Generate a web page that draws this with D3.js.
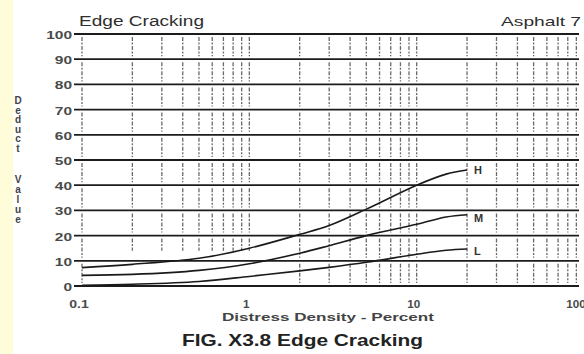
<!DOCTYPE html>
<html>
<head>
<meta charset="utf-8">
<script src="https://cdn.jsdelivr.net/npm/d3@7"></script>
<style>
  html, body { margin: 0; padding: 0; background: #fff; }
  svg { display: block; }
  text { font-family: "Liberation Sans", Arial, sans-serif; fill: #262626; }
</style>
</head>
<body>
<script>
// ---- data ----
const density = [0.1, 0.2, 0.5, 1, 2, 3, 5, 10, 15, 20];
const seriesH = [7.3, 8.6, 11, 15, 20.5, 24, 30.5, 40, 44.4, 46];
const seriesM = [4.2, 4.6, 6.2, 8.8, 13, 16, 20, 24.5, 27.4, 28.3];
const seriesL = [0.3, 0.7, 1.8, 3.8, 6, 7.4, 9.4, 12.6, 14.2, 14.7];
const seriesNames = ["H", "M", "L"];
const yTicks = [0, 10, 20, 30, 40, 50, 60, 70, 80, 90, 100];
const xTicks = [0.1, 1, 10, 100];
const xTickLabels = ["0.1", "1", "10", "100"];
const chartTitle = "Edge Cracking";
const chartTag = "Asphalt 7";
const xTitle = "Distress Density - Percent";
const yTitle = ["Deduct", "Value"];
const caption = "FIG. X3.8 Edge Cracking";

const W = 584, H = 354;
const svg = d3.select("body").append("svg").attr("width", W).attr("height", H);

// pale yellow strip on the left
svg.append("rect").attr("x", 0).attr("y", 0).attr("width", 13).attr("height", H).attr("fill", "#fffdd9");

const x = d3.scaleLog().domain([0.1, 100]).range([82, 584]);
const y = d3.scaleLinear().domain([0, 100]).range([286, 34]);

// vertical dashed grid lines (1..9 per decade)
const vVals = [];
[0.1, 1, 10].forEach(d => { for (let k = 1; k <= 9; k++) vVals.push(+(d * k).toPrecision(3)); });
const vg = svg.append("g");
vVals.forEach(v => {
  const bottom = (v > 0.15 && v < 1.5) ? 14 : 0;
  for (let j = 0; j < 10; j++) {
    const lo = Math.max(j * 10, bottom), hi = j * 10 + 10;
    if (lo >= hi) continue;
    const y1 = y(hi) + 3, y2 = (lo === j * 10) ? y(lo) - 3 : y(lo);
    if (y2 - y1 < 3) continue;
    vg.append("line")
      .attr("x1", x(v)).attr("x2", x(v))
      .attr("y1", y1).attr("y2", y2)
      .attr("stroke", "#6a6a6a").attr("stroke-width", 1.3)
      .attr("stroke-dasharray", "4,1.5,2,1.5");
  }
});

// horizontal grid lines
svg.append("g").selectAll("line").data(yTicks).join("line")
  .attr("x1", 74).attr("x2", 579)
  .attr("y1", d => y(d)).attr("y2", d => y(d))
  .attr("stroke", "#1c1c1c").attr("stroke-width", 1.8);

// y tick labels
svg.append("g").selectAll("text").data(yTicks).join("text")
  .attr("x", 72).attr("y", d => y(d) + 5)
  .attr("text-anchor", "end")
  .attr("font-size", 10).attr("font-weight", "bold")
  .attr("textLength", d => String(d).length * 8.6)
  .attr("lengthAdjust", "spacingAndGlyphs")
  .style("fill", "#4a4a4a")
  .text(d => d);

// x tick labels
svg.append("g").selectAll("text").data(xTicks).join("text")
  .attr("x", (d, i) => x(d) - (i === 3 ? 8 : 3)).attr("y", 308)
  .attr("text-anchor", "middle")
  .attr("font-size", 10).attr("font-weight", "bold")
  .attr("textLength", (d, i) => xTickLabels[i].length * 6.5)
  .attr("lengthAdjust", "spacingAndGlyphs")
  .style("fill", "#4a4a4a")
  .text((d, i) => xTickLabels[i]);

// curves
const line = d3.line().x(d => x(d[0])).y(d => y(d[1])).curve(d3.curveCatmullRom.alpha(0.5));
const allSeries = [seriesH, seriesM, seriesL];
allSeries.forEach((s, i) => {
  const pts = density.map((d, k) => [d, s[k]]);
  svg.append("path").attr("d", line(pts))
    .attr("fill", "none").attr("stroke", "#1a1a1a").attr("stroke-width", 1.6);
  svg.append("text")
    .attr("x", x(density[density.length - 1]) + 7)
    .attr("y", y(s[s.length - 1]) + 4 + (i === 0 ? 0 : i === 1 ? 3 : 2))
    .attr("font-size", 11).attr("font-weight", "bold")
    .style("fill", "#333")
    .text(seriesNames[i]);
});

// titles
svg.append("text").attr("x", 79).attr("y", 26)
  .attr("font-size", 14).attr("textLength", 125).attr("lengthAdjust", "spacingAndGlyphs")
  .style("fill", "#2e2e2e").text(chartTitle);
svg.append("text").attr("x", 581).attr("y", 26).attr("text-anchor", "end")
  .attr("font-size", 13).attr("textLength", 80).attr("lengthAdjust", "spacingAndGlyphs")
  .style("fill", "#2e2e2e").text(chartTag);

svg.append("text").attr("x", 222).attr("y", 321)
  .attr("font-size", 11).attr("font-weight", "bold").attr("textLength", 212).attr("lengthAdjust", "spacingAndGlyphs")
  .style("fill", "#444").text(xTitle);

svg.append("text").attr("x", 182).attr("y", 346)
  .attr("font-size", 17).attr("font-weight", "bold").attr("textLength", 241).attr("lengthAdjust", "spacingAndGlyphs")
  .style("fill", "#222").text(caption);

// vertical stacked y-axis title
const letters = [];
yTitle[0].split("").forEach((c, i) => letters.push({c, yy: 101 + i * 9.6}));
yTitle[1].split("").forEach((c, i) => letters.push({c, yy: 180 + i * 10}));
svg.append("g").selectAll("text").data(letters).join("text")
  .attr("x", 18).attr("y", d => d.yy + 3)
  .attr("text-anchor", "middle")
  .attr("font-size", 10).attr("font-weight", "bold")
  .style("fill", "#444")
  .text(d => d.c);
</script>
</body>
</html>
